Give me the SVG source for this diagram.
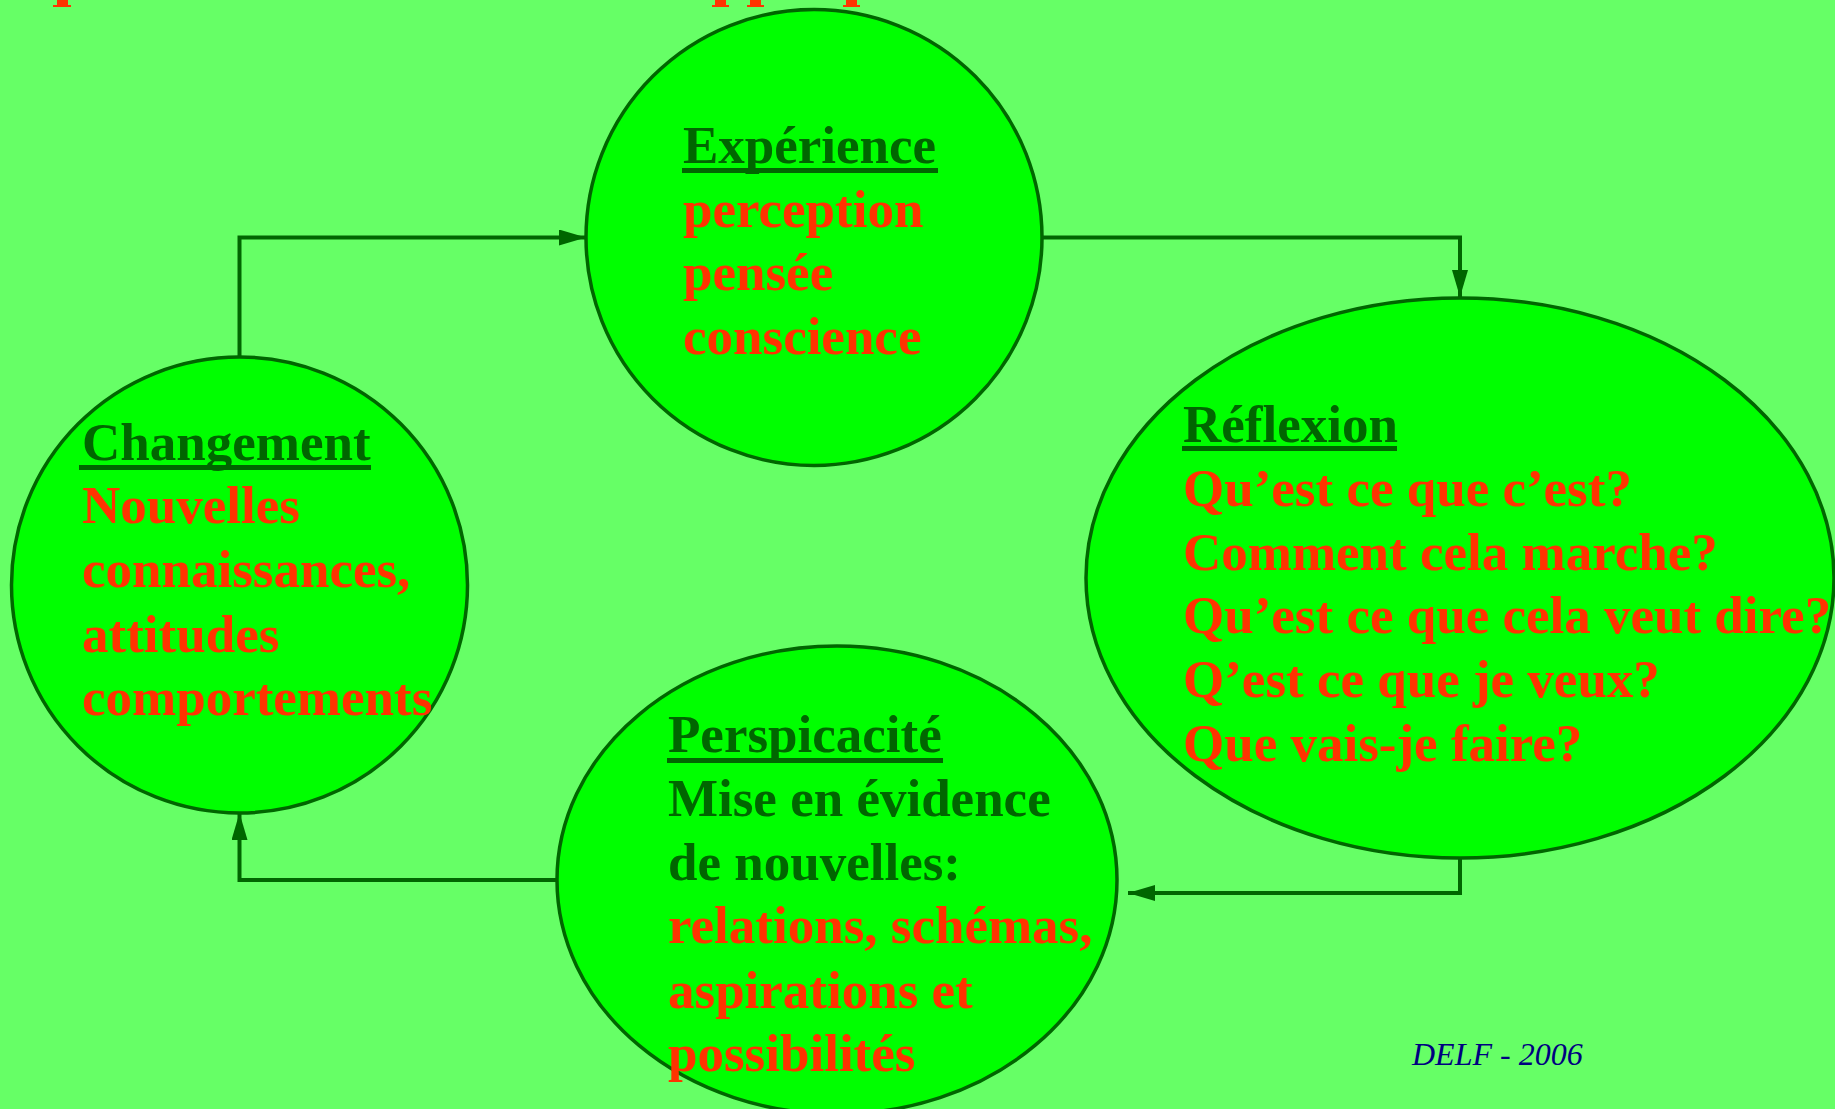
<svg xmlns="http://www.w3.org/2000/svg" width="1835" height="1109" viewBox="0 0 1835 1109">
  <defs>
    <style>
      .bg { fill: #66FF66; }
      .node { fill: #00FF00; stroke: #006600; stroke-width: 3.5; }
      .t { font-family: "Liberation Serif", "Times New Roman", serif; font-weight: bold; font-size: 53px; }
      .head { fill: #006600; }
      .red { fill: #FF3300; }
      .dk { fill: #006600; }
      .ul { fill: #006600; }
      .conn { fill: none; stroke: #006600; stroke-width: 4; marker-end: url(#arrow); }
      .sig { font-family: "Liberation Serif", "Times New Roman", serif; font-style: italic; font-size: 32px; fill: #000080; }
      .stub { fill: #FF3300; }
    </style>
    <marker id="arrow" markerUnits="userSpaceOnUse" markerWidth="27" markerHeight="16" refX="27" refY="8" orient="auto">
      <path d="M0,0 L27,8 L0,16 z" fill="#006600"/>
    </marker>
  </defs>

  <rect class="bg" x="0" y="0" width="1835" height="1109"/>

  <!-- cut-off title remnants at the top edge -->
  <g id="title-remnants">
    <rect class="stub" x="57" y="0" width="11" height="5"/>
    <rect class="stub" x="53" y="5" width="18" height="2"/>
    <rect class="stub" x="715" y="0" width="11" height="5"/>
    <rect class="stub" x="712" y="5" width="17" height="2"/>
    <rect class="stub" x="750" y="0" width="11" height="5"/>
    <rect class="stub" x="747" y="5" width="17" height="2"/>
    <rect class="stub" x="846" y="0" width="11" height="5"/>
    <rect class="stub" x="843" y="5" width="17" height="2"/>
  </g>

  <g id="connectors">
    <path class="conn" d="M239.5,357 V237.5 H586"/>
    <path class="conn" d="M1042,237.5 H1460 V297"/>
    <path class="conn" d="M1460,858 V893 H1128"/>
    <path class="conn" d="M557,880 H239.5 V813"/>
  </g>

  <g id="experience">
    <circle class="node" cx="814" cy="237.5" r="228"/>
    <text class="t head" x="683" y="163">Expérience</text>
    <rect class="ul" x="682" y="168" width="256" height="5"/>
    <text class="t red" x="683" y="226.5">perception</text>
    <text class="t red" x="683" y="290">pensée</text>
    <text class="t red" x="683" y="354">conscience</text>
  </g>

  <g id="reflexion">
    <ellipse class="node" cx="1460" cy="578" rx="374" ry="280"/>
    <text class="t head" x="1183" y="442">Réflexion</text>
    <rect class="ul" x="1182" y="446" width="215" height="5"/>
    <text class="t red" x="1183" y="506">Qu’est ce que c’est?</text>
    <text class="t red" x="1183" y="570">Comment cela marche?</text>
    <text class="t red" x="1183" y="633">Qu’est ce que cela veut dire?</text>
    <text class="t red" x="1183" y="697">Q’est ce que je veux?</text>
    <text class="t red" x="1183" y="761">Que vais-je faire?</text>
  </g>

  <g id="perspicacite">
    <ellipse class="node" cx="837" cy="880" rx="280" ry="234"/>
    <text class="t head" x="668" y="752">Perspicacité</text>
    <rect class="ul" x="667" y="758" width="276" height="5"/>
    <text class="t dk" x="668" y="816">Mise en évidence</text>
    <text class="t dk" x="668" y="880">de nouvelles:</text>
    <text class="t red" x="668" y="943">relations, schémas,</text>
    <text class="t red" x="668" y="1008">aspirations et</text>
    <text class="t red" x="668" y="1071">possibilités</text>
  </g>

  <g id="changement">
    <circle class="node" cx="239.5" cy="585" r="228"/>
    <text class="t head" x="82" y="460">Changement</text>
    <rect class="ul" x="79" y="465" width="292" height="5"/>
    <text class="t red" x="82" y="523">Nouvelles</text>
    <text class="t red" x="82" y="587">connaissances,</text>
    <text class="t red" x="82" y="652">attitudes</text>
    <text class="t red" x="82" y="715">comportements</text>
  </g>

  <g id="signature">
    <text class="sig" x="1412" y="1065">DELF - 2006</text>
  </g>
</svg>
